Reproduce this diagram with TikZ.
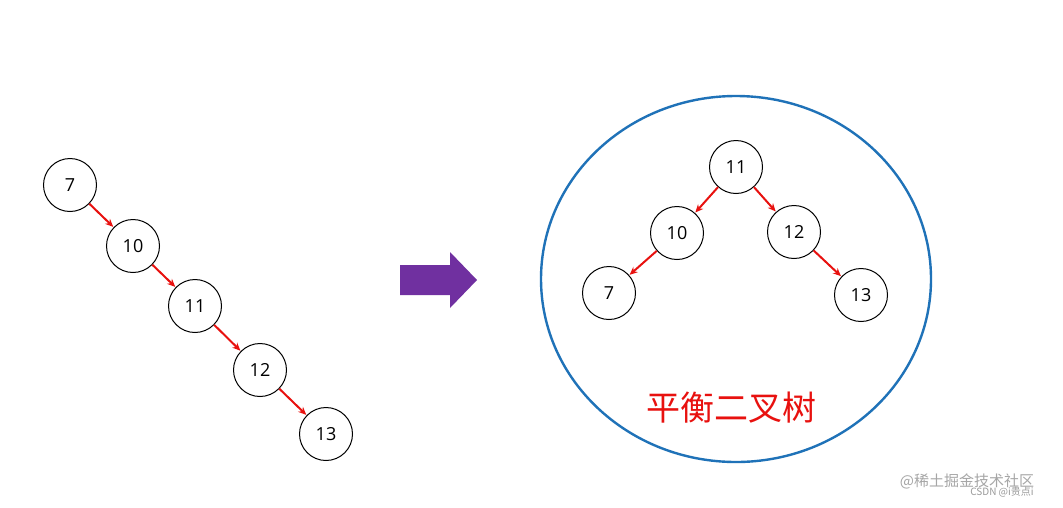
\documentclass[tikz,border=0pt]{standalone}
\usepackage{fontspec}
\setmainfont{Open Sans}
\newfontfamily\cjk{Noto Sans CJK SC}
\usetikzlibrary{arrows.meta,shapes.geometric}
\definecolor{arrred}{HTML}{E8110F}
\definecolor{ringblue}{HTML}{1F72B8}
\definecolor{bigpurple}{HTML}{7030A0}
\begin{document}
\begin{tikzpicture}[x=1pt,y=-1pt,
  tnode/.style={circle,draw=black,line width=1pt,minimum size=53pt,inner sep=0pt,font=\fontsize{18}{18}\selectfont},
  edge/.style={draw=arrred,line width=2pt,-{Stealth[length=8pt,width=7pt]},shorten >=0.5pt}]
\useasboundingbox (0,0) rectangle (1063,507);
\fill[white] (0,0) rectangle (1063,507);
\node[tnode] (a7) at (70,185) {7};
\node[tnode] (a10) at (133,246) {10};
\node[tnode] (a11) at (195,306) {11};
\node[tnode] (a12) at (260,370) {12};
\node[tnode] (a13) at (326,434) {13};
\draw[edge] (a7) -- (a10);
\draw[edge] (a10) -- (a11);
\draw[edge] (a11) -- (a12);
\draw[edge] (a12) -- (a13);
\fill[bigpurple] (400,265) -- (450,265) -- (450,252) -- (477,280) -- (450,308) -- (450,295) -- (400,295) -- cycle;
\node[draw=ringblue,line width=2.4pt,ellipse,minimum width=390pt,minimum height=366pt,inner sep=0pt] (ring) at (736,279) {};
\node[tnode] (b11) at (736,167) {11};
\node[tnode] (b10) at (677,233) {10};
\node[tnode] (b12) at (794,232) {12};
\node[tnode] (b7) at (609,293) {7};
\node[tnode] (b13) at (861,295) {13};
\draw[edge] (b11) -- (b10);
\draw[edge] (b11) -- (b12);
\draw[edge] (b10) -- (b7);
\draw[edge] (b12) -- (b13);
\node[text=arrred,font=\cjk\fontsize{34}{34}\selectfont] (title) at (731,408) {平衡二叉树};
\node[text=gray!70,font=\cjk\fontsize{15}{15}\selectfont] (wm1) at (967,481) {@稀土掘金技术社区};
\node[text=gray!80,font=\cjk\fontsize{10}{10}\selectfont] (wm2) at (1002,492) {CSDN @i贵点i};
\end{tikzpicture}
\end{document}
